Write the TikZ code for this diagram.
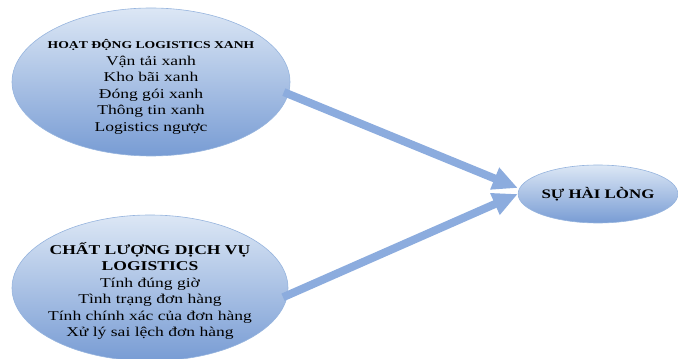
\documentclass[tikz,border=0pt]{standalone}
\usepackage{fontspec}
\setmainfont{Liberation Serif}[FakeStretch=1.3]
\usetikzlibrary{shapes.geometric,arrows.meta}
\definecolor{ovaltop}{RGB}{220,231,245}
\definecolor{ovalbot}{RGB}{120,156,212}
\definecolor{ovalrim}{RGB}{150,180,222}
\definecolor{arrowcol}{RGB}{140,172,222}

\begin{document}
\begin{tikzpicture}[x=1pt, y=1pt, every node/.style={font=\fontsize{13.5}{16.5}\selectfont}, oval/.style={ellipse, top color=ovaltop, bottom color=ovalbot, draw=ovalrim, line width=0.6pt, inner sep=0pt}, fat/.style={draw=arrowcol, line width=8pt, shorten <=-5pt, -{Triangle[length=25pt, width=22pt]}}]
	\useasboundingbox (0,0) rectangle (678,359);
	\node[oval, minimum width=278pt, minimum height=148pt] (green) at (151,277) {};
	\node[align=center] (greentext) at ([yshift=-5pt]green.center) {{\fontsize{10.5}{16.5}\selectfont\bfseries HOẠT ĐỘNG LOGISTICS XANH}\\Vận tải xanh\\Kho bãi xanh\\Đóng gói xanh\\Thông tin xanh\\Logistics ngược};
	\node[oval, minimum width=276pt, minimum height=146pt] (quality) at (150,71) {};
	\node[align=center] (qualitytext) at ([yshift=-3pt]quality.center) {{\bfseries CHẤT LƯỢNG DỊCH VỤ}\\{\bfseries LOGISTICS}\\Tính đúng giờ\\Tình trạng đơn hàng\\Tính chính xác của đơn hàng\\Xử lý sai lệch đơn hàng};
	\node[oval, minimum width=156pt, minimum height=58pt, font=\fontsize{13}{16}\selectfont\bfseries] (satis) at (598,165) {SỰ HÀI LÒNG};
	\draw[fat] (green.-5) -- ([yshift=6pt]satis.west);
	\draw[fat] (quality.-3) -- (satis.west);
\end{tikzpicture}
\end{document}
